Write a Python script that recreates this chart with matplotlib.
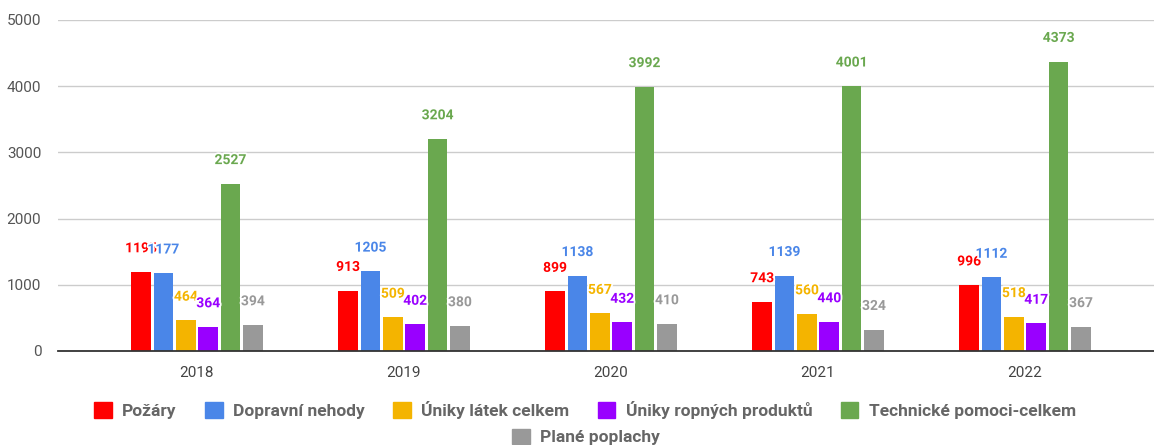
import matplotlib.pyplot as plt
import matplotlib.patheffects as pe
from matplotlib.patches import Patch
import numpy as np

plt.rcParams['font.family'] = ['Roboto', 'DejaVu Sans']

years = ['2018', '2019', '2020', '2021', '2022']
pozary = [1195, 913, 899, 743, 996]
dopravni = [1177, 1205, 1138, 1139, 1112]
uniky_latek = [464, 509, 567, 560, 518]
uniky_ropnych = [364, 402, 432, 440, 417]
technicke = [2527, 3204, 3992, 4001, 4373]
plane = [394, 380, 410, 324, 367]

series = [
    ('Požáry', pozary, '#ff0000'),
    ('Dopravní nehody', dopravni, '#4a86e8'),
    ('Úniky látek celkem', uniky_latek, '#f4b400'),
    ('Úniky ropných produktů', uniky_ropnych, '#9900ff'),
    ('Technické pomoci-celkem', technicke, '#6aa84f'),
    ('Plané poplachy', plane, '#999999'),
]

fig = plt.figure(figsize=(11.54, 4.45), dpi=100)
ax = fig.add_axes([58 / 1154, 1 - 351 / 445, 1 - 58 / 1154, (351 - 20) / 445])

x = np.arange(len(years))
pitch = 0.108
width = 0.095
for i, (name, vals, col) in enumerate(series):
    pos = x + (i - 2.5) * pitch
    ax.bar(pos, vals, width, color=col, zorder=3)
    for p, v in zip(pos, vals):
        ax.annotate(str(v), (p, v), xytext=(0, 17), textcoords='offset points',
                    ha='center', va='center', fontsize=10, fontweight='bold',
                    color=col, zorder=4,
                    path_effects=[pe.withStroke(linewidth=2.5, foreground='white')])

ax.set_xlim(-0.671, 4.623)
ax.set_ylim(0, 5000)
ax.set_yticks([0, 1000, 2000, 3000, 4000, 5000])
ax.set_xticks(x)
ax.set_xticklabels(years)
ax.tick_params(axis='both', length=0, labelsize=11, colors='#555555')
ax.tick_params(axis='y', pad=12)
ax.tick_params(axis='x', pad=11, colors='#444444')
ax.grid(axis='y', color='#cccccc', linewidth=1, zorder=0)
for s in ['top', 'right', 'left']:
    ax.spines[s].set_visible(False)
ax.spines['bottom'].set_color('#333333')
ax.spines['bottom'].set_linewidth(1.3)
ax.spines['bottom'].set_zorder(5)

handles = [Patch(color=c, label=n) for n, _, c in series]
leg_kw = dict(frameon=False, handlelength=1.0, handleheight=1.0,
              handletextpad=0.6, columnspacing=1.65, borderaxespad=0,
              prop={'size': 12.5, 'weight': 'bold'})
leg1 = fig.legend(handles=handles[:5], ncol=5, loc='center',
                  bbox_to_anchor=(0.507, 1 - 410 / 445), **leg_kw)
leg2 = fig.legend(handles=handles[5:], ncol=1, loc='center',
                  bbox_to_anchor=(0.508, 1 - 437 / 445), **leg_kw)
for leg in (leg1, leg2):
    for t in leg.get_texts():
        t.set_color('#666666')

fig.savefig('out.png', dpi=100)
